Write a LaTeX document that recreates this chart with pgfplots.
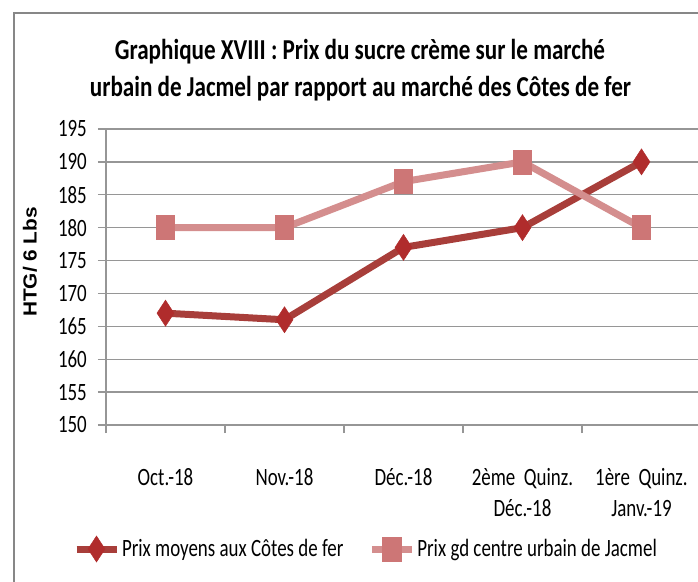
\documentclass[border=0pt]{standalone}
\usepackage{pgfplots}
\pgfplotsset{compat=1.18}
\usepackage{fontspec}
\setmainfont{Carlito}[FakeStretch=0.8]
\newfontfamily\ylabfont{Liberation Sans}[FakeStretch=1.1]
\newfontfamily\tickfont{Carlito}[FakeStretch=0.76]
\definecolor{sA}{RGB}{168,62,58}
\definecolor{sAm}{RGB}{176,44,44}
\definecolor{sB}{RGB}{212,142,142}
\definecolor{sBm}{RGB}{205,118,118}
\definecolor{gridc}{RGB}{150,150,150}
\definecolor{framec}{RGB}{135,135,135}

\pgfplotstableread{
x y
0 167
1 166
2 177
3 180
4 190
}\cotes
\pgfplotstableread{
x y
0 180
1 180
2 187
3 190
4 180
}\jacmel

\begin{document}
\begin{tikzpicture}
\useasboundingbox (0bp,0bp) rectangle (698bp,582bp);
\draw[framec, line width=2.5bp] (14bp,-5bp) -- (14bp,569bp) -- (710bp,569bp);
\node[anchor=base, font=\bfseries\fontsize{29}{37}\selectfont] at (360bp,522bp) {Graphique XVIII : Prix du sucre crème sur le marché};
\node[anchor=base, font=\bfseries\fontsize{29}{37}\selectfont] at (360.5bp,485bp) {urbain de Jacmel par rapport au marché des Côtes de fer};
\node[rotate=90, font=\ylabfont\bfseries\fontsize{19}{23}\selectfont] at (30bp,320bp) {HTG/ 6 Lbs};
\begin{axis}[
  at={(106bp,157bp)}, anchor=south west, scale only axis,
  width=592bp, height=296bp,
  xmin=-0.5, xmax=4.475, ymin=150, ymax=195,
  ytick={150,155,...,195},
  xtick={0,1,2,3,4},
  xticklabels={{Oct.-18\\\mbox{}}, {Nov.-18\\\mbox{}}, {Déc.-18\\\mbox{}}, {2ème\ \ Quinz.\\Déc.-18}, {1ère\ \ Quinz.\\Janv.-19}},
  minor xtick={-0.5,0.5,1.5,2.5,3.5},
  axis x line*=bottom, axis y line*=left,
  axis line style={draw=gridc, line width=1.3bp},
  tick align=outside,
  major tick length=8bp, minor tick length=8bp,
  major x tick style={draw=none},
  minor x tick style={draw=gridc, line width=1.3bp},
  ytick style={draw=gridc, line width=1.3bp},
  ymajorgrids,
  grid style={draw=gridc, line width=1.3bp},
  /pgf/number format/assume math mode=true,
  ticklabel style={font=\tickfont\fontsize{25}{31}\selectfont},
  xticklabel style={anchor=base, align=center, yshift=-83bp},
  yticklabel style={anchor=east, inner sep=0pt, xshift=-11bp},
  clip=false,
  legend columns=2,
  legend style={at={([xshift=-33bp,yshift=-124bp]axis description cs:0,0)}, anchor=west,
    draw=none, fill=none, inner sep=0pt, outer sep=0pt,
    font=\tickfont\fontsize{25}{30}\selectfont,
    nodes={inner xsep=2bp, inner ysep=0pt},
    /tikz/every even column/.append style={column sep=23bp}},
  legend cell align=left,
  legend image code/.code={\draw[mark repeat=2,mark phase=2,#1] plot coordinates {(0bp,0bp) (20bp,0bp) (40bp,0bp)};},
]
\addplot[sA, line width=7bp, mark=diamond*, mark size=13bp,
  mark options={fill=sAm, draw=sAm, line width=0.5bp, xscale=0.87}] table[x=x,y=y] {\cotes};
\addlegendentry{Prix moyens aux Côtes de fer}
\addplot[sB, line width=7bp, mark=square*, mark size=12bp,
  mark options={fill=sBm, draw=sBm, line width=0.5bp, xscale=0.76}] table[x=x,y=y] {\jacmel};
\addlegendentry{Prix gd centre urbain de Jacmel}
\end{axis}
\end{tikzpicture}
\end{document}
